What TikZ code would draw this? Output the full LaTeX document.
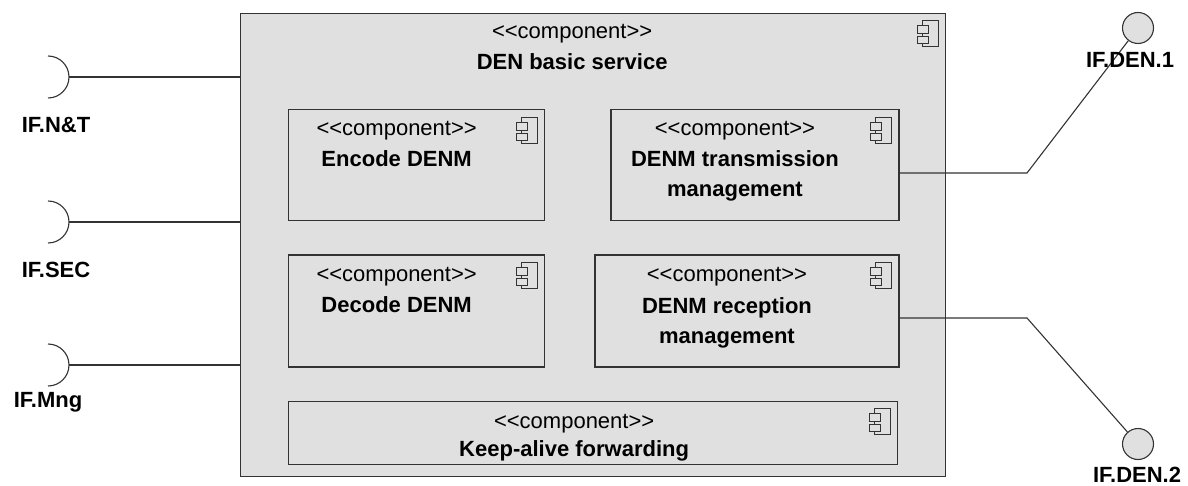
\documentclass[tikz,border=0pt]{standalone}
\usepackage{fontspec}
\setmainfont{Liberation Sans}
\usepackage{tikz}
\usetikzlibrary{positioning}
\definecolor{compfill}{HTML}{E0E0E0}
\definecolor{linec}{HTML}{333333}
\newcommand{\bigtext}{\fontsize{22pt}{30pt}\selectfont}
\newcommand{\stereo}{<\kern0pt<component>\kern0pt>}

\begin{document}
\begin{tikzpicture}[x=1pt,y=-1pt,
        comp/.style={draw=linec, fill=compfill, line width=1.3pt, inner sep=0pt},
        stereo/.style={anchor=base, inner sep=0pt, font=\bigtext},
        cname/.style={anchor=base, inner sep=0pt, font=\bigtext\bfseries},
        ifname/.style={anchor=base, inner sep=0pt, font=\bigtext\bfseries},
        conn/.style={draw=linec, line width=1.1pt},
        lolli/.style={circle, draw=linec, fill=compfill, line width=1.1pt, minimum size=31pt, inner sep=0pt},
        compicon/.pic={
            \draw[draw=linec, fill=compfill, line width=0.9pt] (-16,0) rectangle (0,26);
            \draw[draw=linec, fill=compfill, line width=0.9pt] (-21,5) rectangle (-10,13);
            \draw[draw=linec, fill=compfill, line width=0.9pt] (-21,16) rectangle (-10,23);
        }]
        \useasboundingbox (0,0) rectangle (1188,486);
        % main component
        \node[comp, minimum width=705pt, minimum height=463pt, anchor=north west] (den) at (240,13) {};
        \pic at ([xshift=-8pt,yshift=-7pt]den.north east) {compicon};
        \node[stereo] (denS) at ([xshift=-21pt,yshift=-26pt]den.north) {\stereo};
        \node[cname] (denN) at ([xshift=-21pt,yshift=-57pt]den.north) {DEN basic service};
        % inner components
        \node[comp, minimum width=256pt, minimum height=111pt, anchor=north west] (enc) at (288,109) {};
        \node[comp, minimum width=288pt, minimum height=111pt, right=65pt of enc.north east, anchor=north west] (trans) {};
        \node[comp, minimum width=256pt, minimum height=112pt, below=33pt of enc.south west, anchor=north west] (dec) {};
        \node[comp, minimum width=304pt, minimum height=112pt, below=33pt of trans.south east, anchor=north east] (rec) {};
        \node[comp, minimum width=609pt, minimum height=63pt, below=33pt of dec.south west, anchor=north west] (keep) {};
        \foreach \c in {enc,trans,dec,rec,keep}
            \pic at ([xshift=-8pt,yshift=-8pt]\c.north east) {compicon};
        \node[stereo] (encS) at ([xshift=-20pt,yshift=-27pt]enc.north) {\stereo};
        \node[cname] (encN) at ([xshift=-20pt,yshift=-58pt]enc.north) {Encode DENM};
        \node[stereo] (transS) at ([xshift=-20pt,yshift=-27pt]trans.north) {\stereo};
        \node[cname] (transN) at ([xshift=-20pt,yshift=-58pt]trans.north) {DENM transmission};
        \node[cname] (transM) at ([yshift=-30pt]transN.base) {management};
        \node[stereo] (decS) at ([xshift=-20pt,yshift=-27pt]dec.north) {\stereo};
        \node[cname] (decN) at ([xshift=-20pt,yshift=-58pt]dec.north) {Decode DENM};
        \node[stereo] (recS) at ([xshift=-20pt,yshift=-27pt]rec.north) {\stereo};
        \node[cname] (recN) at ([xshift=-20pt,yshift=-59pt]rec.north) {DENM reception};
        \node[cname] (recM) at ([yshift=-30pt]recN.base) {management};
        \node[stereo] (keepS) at ([xshift=-19pt,yshift=-28pt]keep.north) {\stereo};
        \node[cname] (keepN) at ([xshift=-19pt,yshift=-56pt]keep.north) {Keep-alive forwarding};
        % required interfaces
        \coordinate (sNT) at (69,77);
        \coordinate (sSEC) at (69,222);
        \coordinate (sMng) at (69,365);
        \foreach \s in {sNT,sSEC,sMng}{
            \draw[conn] (\s) ++(-21pt,21pt) arc[start angle=90, end angle=-90, radius=21pt];
            \draw[conn] (\s) -- (\s -| den.west);
        }
        \node[ifname] (lNT) at (56,133) {IF.N\&T};
        \node[ifname] (lSEC) at (56,277) {IF.SEC};
        \node[ifname] (lMng) at (48,407) {IF.Mng};
        % provided interfaces
        \node[lolli] (den1) at (1138,28) {};
        \node[lolli] (den2) at (1138,444) {};
        \coordinate (b1) at (1027,173);
        \coordinate (b2) at (1027,318);
        \draw[conn] (b1 -| trans.east) -- (b1) -- (den1);
        \draw[conn] (b2 -| rec.east) -- (b2) -- (den2);
        \node[ifname] (lDEN1) at (1130,68) {IF.DEN.1};
        \node[ifname] (lDEN2) at (1137,482) {IF.DEN.2};
\end{tikzpicture}
\end{document}
